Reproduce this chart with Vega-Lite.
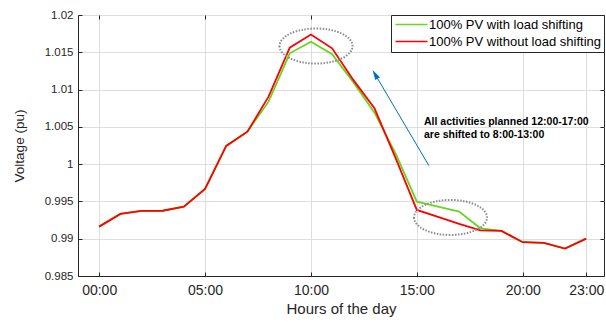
{
  "$schema": "https://vega.github.io/schema/vega-lite/v6.json",
  "width": 526,
  "height": 261,
  "autosize": "none",
  "padding": {"left": 78, "top": 15, "right": 2, "bottom": 49},
  "background": "white",
  "config": {
    "font": "Liberation Sans",
    "view": {"stroke": "#262626", "strokeWidth": 1},
    "axis": {
      "domainColor": "#262626",
      "tickColor": "#262626",
      "labelColor": "#262626",
      "titleColor": "#262626",
      "gridColor": "#dedede",
      "gridWidth": 1,
      "titleFontWeight": "normal",
      "labelFont": "Liberation Sans",
      "titleFont": "Liberation Sans"
    }
  },
  "datasets": {
    "lines": [
      {"hour": 0, "series": "100% PV with load shifting", "v": 0.99162},
      {"hour": 1, "series": "100% PV with load shifting", "v": 0.99332},
      {"hour": 2, "series": "100% PV with load shifting", "v": 0.99373},
      {"hour": 3, "series": "100% PV with load shifting", "v": 0.99375},
      {"hour": 4, "series": "100% PV with load shifting", "v": 0.9943},
      {"hour": 5, "series": "100% PV with load shifting", "v": 0.99668},
      {"hour": 6, "series": "100% PV with load shifting", "v": 1.00244},
      {"hour": 7, "series": "100% PV with load shifting", "v": 1.00436},
      {"hour": 8, "series": "100% PV with load shifting", "v": 1.00838},
      {"hour": 9, "series": "100% PV with load shifting", "v": 1.01486},
      {"hour": 10, "series": "100% PV with load shifting", "v": 1.01642},
      {"hour": 11, "series": "100% PV with load shifting", "v": 1.01473},
      {"hour": 12, "series": "100% PV with load shifting", "v": 1.0110},
      {"hour": 13, "series": "100% PV with load shifting", "v": 1.00691},
      {"hour": 14, "series": "100% PV with load shifting", "v": 1.0014},
      {"hour": 15, "series": "100% PV with load shifting", "v": 0.99497},
      {"hour": 16, "series": "100% PV with load shifting", "v": 0.9943},
      {"hour": 17, "series": "100% PV with load shifting", "v": 0.99363},
      {"hour": 18, "series": "100% PV with load shifting", "v": 0.9914},
      {"hour": 19, "series": "100% PV with load shifting", "v": 0.99105},
      {"hour": 20, "series": "100% PV with load shifting", "v": 0.98953},
      {"hour": 21, "series": "100% PV with load shifting", "v": 0.98944},
      {"hour": 22, "series": "100% PV with load shifting", "v": 0.98867},
      {"hour": 23, "series": "100% PV with load shifting", "v": 0.99001},
      {"hour": 0, "series": "100% PV without load shifting", "v": 0.99162},
      {"hour": 1, "series": "100% PV without load shifting", "v": 0.99332},
      {"hour": 2, "series": "100% PV without load shifting", "v": 0.99373},
      {"hour": 3, "series": "100% PV without load shifting", "v": 0.99375},
      {"hour": 4, "series": "100% PV without load shifting", "v": 0.9943},
      {"hour": 5, "series": "100% PV without load shifting", "v": 0.99668},
      {"hour": 6, "series": "100% PV without load shifting", "v": 1.00244},
      {"hour": 7, "series": "100% PV without load shifting", "v": 1.00436},
      {"hour": 8, "series": "100% PV without load shifting", "v": 1.00905},
      {"hour": 9, "series": "100% PV without load shifting", "v": 1.01562},
      {"hour": 10, "series": "100% PV without load shifting", "v": 1.01738},
      {"hour": 11, "series": "100% PV without load shifting", "v": 1.01553},
      {"hour": 12, "series": "100% PV without load shifting", "v": 1.0113},
      {"hour": 13, "series": "100% PV without load shifting", "v": 1.00749},
      {"hour": 14, "series": "100% PV without load shifting", "v": 1.0008},
      {"hour": 15, "series": "100% PV without load shifting", "v": 0.99386},
      {"hour": 16, "series": "100% PV without load shifting", "v": 0.99292},
      {"hour": 17, "series": "100% PV without load shifting", "v": 0.99198},
      {"hour": 18, "series": "100% PV without load shifting", "v": 0.99113},
      {"hour": 19, "series": "100% PV without load shifting", "v": 0.99105},
      {"hour": 20, "series": "100% PV without load shifting", "v": 0.98953},
      {"hour": 21, "series": "100% PV without load shifting", "v": 0.98944},
      {"hour": 22, "series": "100% PV without load shifting", "v": 0.98867},
      {"hour": 23, "series": "100% PV without load shifting", "v": 0.99001}
    ],
    "ellipses": [
      {"hour": 10.24, "v": 1.01584},
      {"hour": 16.59, "v": 0.99285}
    ],
    "arrow": [
      {"hour": 15.57, "v": 0.9998, "hour2": 13.03, "v2": 1.01205}
    ],
    "head": [
      {"hour": 13.03, "v": 1.01205}
    ],
    "note": [
      {"hour": 15.34, "v": 1.00559, "label": ["All activities planned 12:00-17:00", "are shifted to 8:00-13:00"]}
    ]
  },
  "resolve": {"axis": {"x": "independent", "y": "independent"}},
  "layer": [
    {
      "data": {"name": "lines"},
      "mark": {"type": "line", "strokeWidth": 1.8},
      "encoding": {
        "x": {
          "field": "hour", "type": "quantitative",
          "scale": {"domain": [-1, 23.84], "nice": false, "zero": false},
          "axis": {
            "values": [0, 5, 10, 15, 20, 23],
            "labelExpr": "(datum.value < 10 ? '0' : '') + datum.value + ':00'",
            "labelFontSize": 14,
            "tickSize": -4,
            "labelPadding": 11,
            "title": "Hours of the day",
            "titleFontSize": 15,
            "titlePadding": 4,
            "grid": true
          }
        },
        "y": {
          "field": "v", "type": "quantitative",
          "scale": {"domain": [0.985, 1.02], "nice": false, "zero": false},
          "axis": {
            "values": [0.985, 0.99, 0.995, 1, 1.005, 1.01, 1.015, 1.02],
            "format": "~g",
            "labelFontSize": 11.5,
            "tickSize": -4,
            "labelPadding": 9,
            "title": "Voltage (pu)",
            "titleFontSize": 13.5,
            "titlePadding": 18,
            "grid": true
          }
        },
        "color": {
          "field": "series", "type": "nominal",
          "scale": {
            "domain": ["100% PV with load shifting", "100% PV without load shifting"],
            "range": ["#66D61E", "#FF0000"]
          },
          "legend": {
            "title": null,
            "orient": "top-right",
            "offset": 0,
            "strokeColor": "#262626",
            "fillColor": "white",
            "padding": 3,
            "labelFontSize": 13,
            "labelColor": "#000000",
            "labelLimit": 400,
            "labelOffset": 11,
            "symbolType": "M-3.2,0L3.2,0",
            "symbolSize": 100,
            "symbolOffset": 11,
            "symbolStrokeWidth": 1.5,
            "rowPadding": 3
          }
        }
      }
    },
    {
      "data": {"name": "ellipses"},
      "mark": {
        "type": "point",
        "shape": "M-1,0A1,0.48,0,1,0,1,0A1,0.48,0,1,0,-1,0Z",
        "size": 5329,
        "filled": false,
        "stroke": "#8c8c8c",
        "strokeWidth": 2,
        "strokeDash": [1.5, 1.5],
        "opacity": 1
      },
      "encoding": {
        "x": {
          "field": "hour", "type": "quantitative",
          "axis": {"orient": "top", "labels": false, "title": null, "grid": false, "domain": false, "values": [0, 5, 10, 15, 20, 23], "tickSize": -4}
        },
        "y": {
          "field": "v", "type": "quantitative",
          "axis": {"orient": "right", "labels": false, "title": null, "grid": false, "domain": false, "values": [0.985, 0.99, 0.995, 1, 1.005, 1.01, 1.015, 1.02], "tickSize": -4}
        }
      }
    },
    {
      "data": {"name": "arrow"},
      "mark": {"type": "rule", "color": "#0072BD", "strokeWidth": 1},
      "encoding": {
        "x": {"field": "hour", "type": "quantitative", "axis": null},
        "y": {"field": "v", "type": "quantitative", "axis": null},
        "x2": {"field": "hour2"},
        "y2": {"field": "v2"}
      }
    },
    {
      "data": {"name": "head"},
      "mark": {
        "type": "point",
        "shape": "M0,-1L0.55,1L-0.55,1Z",
        "size": 100,
        "filled": true,
        "color": "#0072BD",
        "opacity": 1,
        "angle": -30.5
      },
      "encoding": {
        "x": {"field": "hour", "type": "quantitative", "axis": null},
        "y": {"field": "v", "type": "quantitative", "axis": null}
      }
    },
    {
      "data": {"name": "note"},
      "mark": {
        "type": "text",
        "align": "left",
        "baseline": "middle",
        "fontWeight": "bold",
        "fontSize": 10.5,
        "lineHeight": 13,
        "color": "#000000"
      },
      "encoding": {
        "x": {"field": "hour", "type": "quantitative", "axis": null},
        "y": {"field": "v", "type": "quantitative", "axis": null},
        "text": {"field": "label"}
      }
    }
  ]
}
